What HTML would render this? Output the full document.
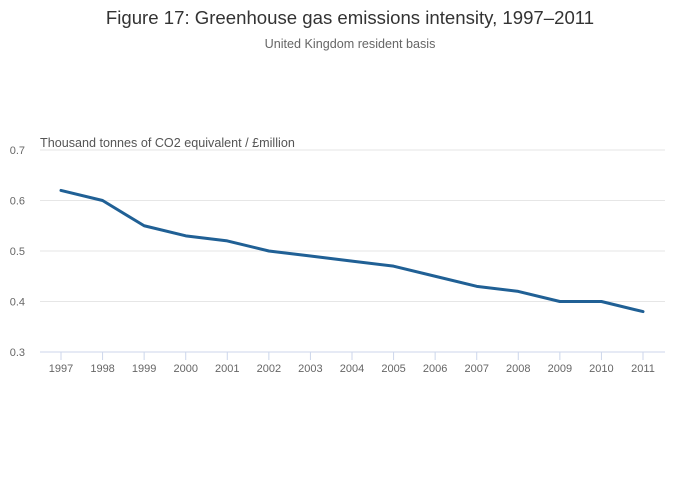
<!DOCTYPE html>
<html><head><meta charset="utf-8"><style>
body{margin:0;background:#fff;font-family:"Liberation Sans",sans-serif;}
svg{display:block}
</style></head><body>
<svg id="chart" width="700" height="502">
<text x="350" y="24" text-anchor="middle" font-size="18.6" fill="#333">Figure 17: Greenhouse gas emissions intensity, 1997–2011</text>
<text x="350" y="48" text-anchor="middle" font-size="12.6" fill="#666">United Kingdom resident basis</text>
<text x="40" y="147" font-size="12.6" fill="#555">Thousand tonnes of CO2 equivalent / £million</text>
<g id="grid"></g><g id="xaxis"></g><g id="series"></g>
</svg>
<script>
const categories=[1997,1998,1999,2000,2001,2002,2003,2004,2005,2006,2007,2008,2009,2010,2011];
const values=[0.62,0.60,0.55,0.53,0.52,0.50,0.49,0.48,0.47,0.45,0.43,0.42,0.40,0.40,0.38];
const yTicks=[0.3,0.4,0.5,0.6,0.7];
const yTickLabels=["0.3","0.4","0.5","0.6","0.7"];
const NS="http://www.w3.org/2000/svg";
const x0=61,x1=643,yTop=150,yBot=352,yMin=0.3,yMax=0.7;
const xs=i=>x0+(x1-x0)*i/(categories.length-1);
const ys=v=>yBot-(v-yMin)/(yMax-yMin)*(yBot-yTop);
function mk(t,a,p){const e=document.createElementNS(NS,t);for(const k in a)e.setAttribute(k,a[k]);p.appendChild(e);return e;}
const grid=document.getElementById('grid');
yTicks.forEach((t,i)=>{
 const y=ys(t);
 const l=mk('line',{x1:40,x2:665,y1:y,y2:y,stroke:i==0?'#ccd6eb':'#e6e6e6','stroke-width':1},grid);
 
 
 const tx=mk('text',{x:25,y:y+4,'text-anchor':'end','font-size':11,fill:'#666'},grid);
 tx.textContent=yTickLabels[i];
 
 
});
const xa=document.getElementById('xaxis');
categories.forEach((c,i)=>{
 const x=xs(i);
 const tk=mk('line',{x1:x,x2:x,y1:yBot,y2:yBot+8,stroke:'#ccd6eb'},xa);
 
 
 const tx=mk('text',{x:x,y:372,'text-anchor':'middle','font-size':11,fill:'#666'},xa);
 tx.textContent=c;
 
 
});
const s=document.getElementById('series');
const path=mk('polyline',{points:values.map((v,i)=>xs(i)+','+ys(v)).join(' '),fill:'none',stroke:'#206095','stroke-width':3,'stroke-linejoin':'round','stroke-linecap':'round'},s);


</script>
</body></html>
